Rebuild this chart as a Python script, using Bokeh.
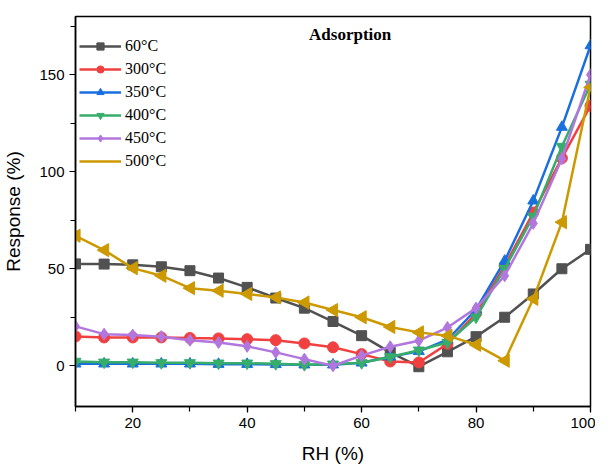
from bokeh.plotting import figure
from bokeh.models import SingleIntervalTicker, Label, Range1d, ColumnDataSource
from bokeh.embed import file_html
from bokeh.resources import INLINE

rh = [10, 15, 20, 25, 30, 35, 40, 45, 50, 55, 60, 65, 70, 75, 80, 85, 90, 95, 100]
s60 = [52.5, 52.4, 52, 51, 49, 45.2, 40.4, 34.9, 29.7, 22.8, 15.5, 6.9, -0.5, 7.2, 15, 25, 37, 50, 60]
s300 = [15.1, 14.6, 14.6, 14.6, 14.3, 14.1, 13.7, 13.2, 11.5, 9.5, 6, 2.2, 1.7, 11.3, 27, 51.5, 79, 107, 134]
s350 = [1, 1, 1, 1, 1, 0.8, 0.8, 0.7, 0.5, 0.5, 1.5, 4.6, 7.4, 13.4, 29, 54, 85, 123, 165]
s400 = [2.2, 1.8, 1.8, 1.5, 1.5, 1.3, 1.3, 1, 0.5, 0.8, 1.5, 4.5, 8, 12, 25, 50, 77, 113, 145]
s450 = [20.3, 16.3, 15.8, 15, 13.2, 12, 10, 6.9, 3.4, 0, 5.2, 9.8, 12.9, 19.7, 29.7, 46.4, 73.4, 106.7, 150]
s500 = [67, 59.6, 50.3, 46.4, 40, 38.7, 37, 35.2, 32.6, 28.7, 25, 20, 17.2, 15.5, 10.8, 2.6, 34.5, 74, 143.5]

labels = ["60°C", "300°C", "350°C", "400°C", "450°C", "500°C"]
series = [s60, s300, s350, s400, s450, s500]
colors = ["#515151", "#F14040", "#1A6FDF", "#37AD6B", "#B177DE", "#CC9900"]
markers = ["square", "circle", "triangle", "inverted_triangle", "diamond", "left"]
sizes = [10, 11, 11, 11, 12, 11]

# half sizes of the left-pointing marker, in data units (about 6-7 px each way)
TIP_DX, BACK_DX, HALF_DY = 1.2, 0.8, 3.4

p = figure(width=595, height=466, output_backend="svg", toolbar_location=None,
           x_range=Range1d(10, 100), y_range=Range1d(-21, 180),
           min_border_left=70, min_border_right=5, min_border_top=16, min_border_bottom=60)

p.grid.visible = False
p.outline_line_color = "black"
p.outline_line_width = 1.5
p.background_fill_color = "white"
p.border_fill_color = "white"

for lab, ys, c, m, s in zip(labels, series, colors, markers, sizes):
    src = ColumnDataSource(dict(x=rh, y=ys))
    p.line("x", "y", source=src, line_color=c, line_width=2.5, legend_label=lab)
    if m == "left":
        xs = [[x - TIP_DX, x + BACK_DX, x + BACK_DX] for x in rh]
        yss = [[y, y + HALF_DY, y - HALF_DY] for y in ys]
        p.patches(xs, yss, fill_color=c, line_color=c, line_width=1)
    else:
        p.scatter("x", "y", source=src, marker=m, size=s,
                  fill_color=c, line_color=c, legend_label=lab)

p.xaxis.ticker = SingleIntervalTicker(interval=20, num_minor_ticks=2)
p.yaxis.ticker = SingleIntervalTicker(interval=50, num_minor_ticks=2)
for ax in (p.xaxis[0], p.yaxis[0]):
    ax.axis_line_color = "black"
    ax.axis_line_width = 1.5
    ax.major_tick_line_color = "black"
    ax.minor_tick_line_color = "black"
    ax.major_tick_line_width = 1.2
    ax.minor_tick_line_width = 1.2
    ax.major_tick_out = 6
    ax.major_tick_in = 0
    ax.minor_tick_out = 5
    ax.minor_tick_in = 0
    ax.major_label_text_font = "Liberation Sans"
    ax.major_label_text_font_size = "15px"
    ax.major_label_text_color = "black"
    ax.axis_label_text_font = "Liberation Sans"
    ax.axis_label_text_font_size = "19px"
    ax.axis_label_text_font_style = "normal"
    ax.axis_label_text_color = "black"

p.xaxis.axis_label = "RH (%)"
p.yaxis.axis_label = "Response (%)"
p.xaxis.axis_label_standoff = 12
p.yaxis.axis_label_standoff = 12

p.legend.location = (2, 234)
p.legend.background_fill_alpha = 0
p.legend.border_line_alpha = 0
p.legend.label_text_font = "Liberation Serif"
p.legend.label_text_font_size = "16px"
p.legend.label_text_color = "black"
p.legend.glyph_width = 42
p.legend.glyph_height = 18
p.legend.spacing = 5
p.legend.padding = 2
p.legend.margin = 0
p.legend.label_standoff = 4

title = Label(x=58, y=170.6, text="Adsorption", text_font="Liberation Serif",
              text_font_style="bold", text_font_size="17px", text_align="center",
              text_baseline="middle", text_color="black")
p.add_layout(title)

open("out.html", "w").write(file_html(p, INLINE))
